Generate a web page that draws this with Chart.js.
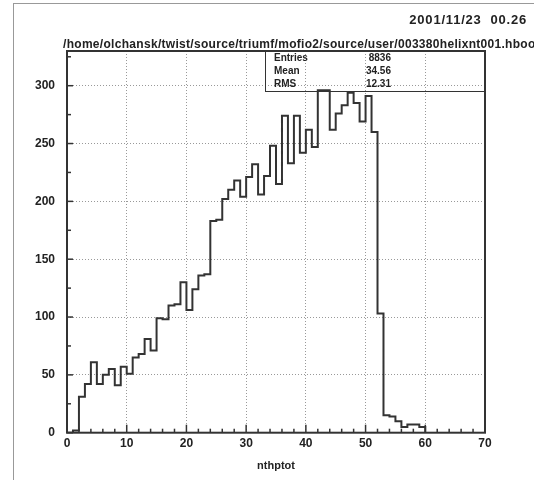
<!DOCTYPE html>
<html>
<head>
<meta charset="utf-8">
<script src="https://cdn.jsdelivr.net/npm/chart.js@4.4.0/dist/chart.umd.min.js"></script>
<style>
html, body { margin: 0; padding: 0; background: #fff; overflow: hidden; }
#page { position: relative; width: 534px; height: 480px; overflow: hidden; }
#frame { position: absolute; left: 13px; top: 3px; width: 560px; height: 520px; border: 1px solid #999; }
#chart { position: absolute; left: 0; top: 0; }
.txt { position: absolute; font-family: "Liberation Sans", Arial, sans-serif; font-weight: bold; color: #222; white-space: nowrap; }
#date { right: 7px; top: 12px; font-size: 13px; letter-spacing: 0.8px; }
#path { left: 63px; top: 37px; font-size: 12px; letter-spacing: 0.3px; }
#stats { position: absolute; left: 265px; top: 51px; width: 220px; height: 40px; border-left: 1.5px solid #333; border-bottom: 1.5px solid #333; }
#stats .txt { font-size: 10px; }
</style>
</head>
<body>
<div id="page">
  <div id="frame"></div>
  <canvas id="chart" width="534" height="480"></canvas>
  <div id="date" class="txt">2001/11/23&nbsp;&nbsp;00.26</div>
  <div id="path" class="txt">/home/olchansk/twist/source/triumf/mofio2/source/user/003380helixnt001.hbook</div>
  <div id="stats"></div>
</div>
<script>
// histogram nthptot, 1-unit bins starting at 0
const binLow = 0;
const binWidth = 1;
const counts = [
  0, 2, 31, 42, 61, 42, 50, 55, 41, 57,
  51, 65, 68, 81, 71, 99, 98, 110, 111, 130,
  106, 124, 136, 137, 183, 184, 202, 210, 218, 204,
  221, 232, 206, 222, 248, 215, 274, 233, 274, 242,
  262, 247, 296, 296, 262, 276, 283, 294, 285, 269,
  291, 260, 103, 15, 14, 10, 5, 7, 7, 5
];
const xTicks = [0, 10, 20, 30, 40, 50, 60, 70];
const yTicks = [0, 50, 100, 150, 200, 250, 300];
const statNames = ["Entries", "Mean", "RMS"];
const statValues = ["8836", "34.56", "12.31"];
const xTitle = "nthptot";

// stats box rows
const box = document.getElementById("stats");
statNames.forEach((name, i) => {
	const l = document.createElement("div");
	l.className = "txt";
	l.textContent = name;
	l.style.left = "8px";
	l.style.top = (1 + i * 13) + "px";
	box.appendChild(l);
	const v = document.createElement("div");
	v.className = "txt";
	v.textContent = statValues[i];
	v.style.right = "95px";
	v.style.top = (1 + i * 13) + "px";
	box.appendChild(v);
});

// each point holds its bin value until the next edge
const points = counts.map((c, i) => ({ x: binLow + i * binWidth, y: c }));
const xEnd = binLow + counts.length * binWidth;
points.push({ x: xEnd, y: counts[counts.length - 1] });
points.push({ x: xEnd, y: 0 });

const font = { family: "Liberation Sans", size: 12, weight: "bold" };

// frame and inward tick marks like the old HBOOK plot
const framePlugin = {
	id: "frame",
	afterDraw(chart) {
		const ctx = chart.ctx;
		const a = chart.chartArea;
		const xs = chart.scales.x;
		const ys = chart.scales.y;
		ctx.save();
		ctx.strokeStyle = "#333";
		ctx.lineWidth = 1.5;
		for (let v = 0; v <= 70; v += 2) {
			const px = xs.getPixelForValue(v);
			const len = v % 10 === 0 ? 8 : 4;
			ctx.beginPath();
			ctx.moveTo(px, a.bottom);
			ctx.lineTo(px, a.bottom - len);
			ctx.stroke();
		}
		for (let v = 0; v <= 325; v += 25) {
			const py = ys.getPixelForValue(v);
			const len = v % 50 === 0 ? 6 : 4;
			ctx.beginPath();
			ctx.moveTo(a.left, py);
			ctx.lineTo(a.left + len, py);
			ctx.stroke();
		}
		ctx.lineWidth = 2;
		ctx.strokeRect(a.left, a.top, a.right - a.left, a.bottom - a.top);
		ctx.restore();
	}
};

new Chart(document.getElementById("chart").getContext("2d"), {
	type: "line",
	data: {
		datasets: [{
			data: points,
			stepped: "before",
			borderColor: "#333",
			borderWidth: 2,
			pointRadius: 0,
			fill: false
		}]
	},
	options: {
		responsive: false,
		animation: false,
		layout: { padding: { top: 51, right: 49, left: 0, bottom: 0 } },
		plugins: { legend: { display: false }, tooltip: { enabled: false } },
		scales: {
			x: {
				type: "linear",
				min: 0,
				max: 70,
				afterBuildTicks: s => { s.ticks = xTicks.map(v => ({ value: v })); },
				afterFit: s => { s.height = 47.3; },
				grid: { color: "#999", lineWidth: 1, drawTicks: false },
				border: { display: false, dash: [1, 2] },
				ticks: { font: font, color: "#222", padding: 4, maxRotation: 0 },
				title: { display: true, text: xTitle, font: { family: "Liberation Sans", size: 11, weight: "bold" }, color: "#222", padding: { top: 0, bottom: 7 } }
			},
			y: {
				min: 0,
				max: 330,
				afterBuildTicks: s => { s.ticks = yTicks.map(v => ({ value: v })); },
				afterFit: s => { s.width = 67; },
				grid: { color: "#999", lineWidth: 1, drawTicks: false },
				border: { display: false, dash: [1, 2] },
				ticks: { font: font, color: "#222", padding: 12 }
			}
		}
	},
	plugins: [framePlugin]
});
</script>
</body>
</html>
